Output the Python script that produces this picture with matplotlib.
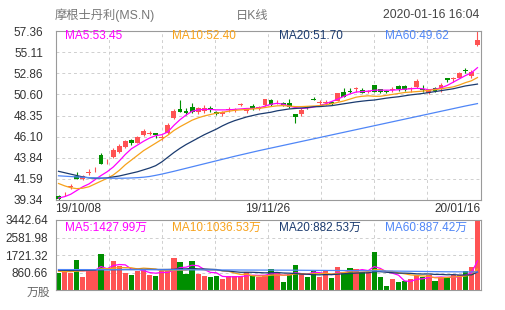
import matplotlib
matplotlib.use('Agg')
import matplotlib.pyplot as plt
from matplotlib.transforms import ScaledTranslation

plt.rcParams['font.family'] = ['Liberation Sans', 'Noto Sans CJK SC', 'DejaVu Sans']

stock_name = '摩根士丹利(MS.N)'
chart_type = '日K线'
timestamp = '2020-01-16 16:04'
date_labels = ['19/10/08', '19/11/26', '20/01/16']
date_label_idx = [0, 35, 69]
price_ticks = [39.34, 41.59, 43.84, 46.10, 48.35, 50.60, 52.86, 55.11, 57.36]
vol_ticks = [860.66, 1721.32, 2581.98, 3442.64]
vol_unit = '万'
vol_axis_unit = '万股'

opens = [39.77, 39.95, 40.72, 41.90, 41.55, 42.22, 42.50, 44.14, 43.36, 43.89,
         44.46, 44.96, 45.74, 45.46, 46.27, 46.40, 46.45, 45.98, 46.52, 48.05,
         49.01, 48.87, 49.22, 48.76, 48.87, 49.19, 48.69, 48.48, 48.97, 48.94,
         49.50, 48.85, 49.40, 49.08, 49.47, 50.00, 49.75, 49.72, 49.65, 48.51,
         48.48, 49.29, 50.10, 49.68, 49.68, 49.83, 49.93, 50.82, 51.00, 51.20,
         51.10, 50.86, 51.61, 51.15, 51.00, 51.10, 51.50, 51.50, 51.15, 51.36,
         51.20, 50.79, 51.25, 51.15, 52.32, 52.20, 52.39, 53.15, 52.57, 55.87]
highs = [39.85, 40.20, 41.00, 42.30, 41.97, 42.60, 42.85, 44.32, 43.70, 44.85,
         45.30, 45.70, 45.85, 46.17, 46.88, 46.66, 46.50, 46.30, 47.59, 49.00,
         50.00, 49.15, 49.72, 49.30, 49.44, 49.40, 48.83, 48.87, 49.22, 49.20,
         49.72, 49.20, 49.55, 49.40, 50.15, 50.10, 49.95, 49.83, 50.10, 48.55,
         49.12, 49.40, 50.30, 49.95, 49.95, 49.90, 50.75, 51.25, 51.25, 51.40,
         51.25, 51.05, 51.65, 51.20, 51.10, 51.35, 51.55, 51.55, 51.40, 52.25,
         51.60, 51.20, 51.35, 51.85, 52.40, 52.50, 52.95, 53.40, 53.20, 57.36]
lows = [39.34, 39.80, 40.50, 41.55, 41.45, 41.97, 42.30, 43.18, 43.15, 43.85,
        44.40, 44.90, 45.20, 45.40, 46.20, 46.27, 46.00, 45.75, 46.38, 47.95,
        48.70, 48.40, 48.66, 48.50, 48.58, 48.76, 48.37, 48.34, 48.76, 48.70,
        49.36, 48.60, 48.90, 48.94, 49.40, 49.40, 49.55, 49.36, 49.12, 47.59,
        48.30, 49.00, 49.95, 49.50, 49.50, 49.50, 49.85, 50.30, 50.80, 50.90,
        50.70, 50.70, 50.85, 50.80, 50.80, 50.90, 51.00, 51.00, 50.90, 51.30,
        50.90, 50.60, 50.85, 50.90, 51.96, 51.96, 52.30, 52.85, 52.32, 55.76]
closes = [39.49, 40.02, 40.80, 41.62, 41.85, 42.30, 42.58, 43.22, 43.44, 44.67,
          45.10, 45.63, 45.39, 46.02, 46.66, 46.50, 46.30, 46.06, 47.34, 48.87,
          48.73, 48.66, 48.76, 49.19, 49.19, 48.98, 48.48, 48.76, 49.05, 49.02,
          49.58, 49.10, 49.12, 49.30, 50.08, 49.47, 49.83, 49.47, 49.30, 48.19,
          48.94, 49.12, 50.00, 49.76, 49.76, 49.60, 50.71, 50.36, 50.90, 51.30,
          50.79, 50.94, 50.90, 50.87, 50.88, 51.20, 51.14, 51.07, 51.22, 52.07,
          51.10, 51.15, 50.93, 51.61, 52.14, 52.30, 52.92, 53.05, 53.03, 56.40]
volumes = [851, 900, 820, 1476, 656, 935, 935, 1771, 935, 1427,
           1197, 851, 738, 935, 1033, 738, 689, 935, 935, 1574,
           1377, 787, 1427, 787, 689, 640, 689, 541, 689, 689,
           689, 886, 689, 640, 738, 1033, 820, 394, 770, 1230,
           820, 640, 935, 640, 984, 590, 1131, 886, 1082, 1033,
           886, 886, 1870, 640, 197, 541, 394, 443, 541, 738,
           640, 738, 443, 640, 640, 738, 738, 935, 1131, 3442.64]

ma5 = [39.55, 39.70, 39.95, 40.35, 40.75, 41.05, 41.50, 41.95, 42.35, 42.85,
       43.50, 44.20, 44.80, 45.20, 45.60, 45.95, 46.20, 46.30, 46.60, 47.30,
       47.90, 48.40, 48.80, 48.95, 49.00, 49.00, 48.95, 48.95, 48.95, 49.00,
       49.05, 49.10, 49.10, 49.15, 49.35, 49.55, 49.65, 49.55, 49.35, 49.20,
       49.10, 49.15, 49.25, 49.40, 49.60, 49.85, 50.10, 50.40, 50.65, 50.85,
       50.90, 50.95, 51.05, 51.05, 51.05, 51.05, 51.10, 51.15, 51.20, 51.25,
       51.20, 51.10, 51.15, 51.30, 51.55, 51.90, 52.25, 52.60, 52.90, 53.45]
ma10 = [41.10, 40.85, 40.65, 40.55, 40.60, 40.75, 41.05, 41.35, 41.65, 42.00,
        42.50, 43.10, 43.60, 44.10, 44.60, 45.00, 45.40, 45.80, 46.25, 46.75,
        47.15, 47.50, 47.85, 48.10, 48.30, 48.45, 48.60, 48.70, 48.80, 48.90,
        48.95, 49.00, 49.05, 49.10, 49.20, 49.30, 49.38, 49.40, 49.35, 49.30,
        49.30, 49.33, 49.36, 49.40, 49.50, 49.60, 49.75, 49.90, 50.10, 50.30,
        50.40, 50.45, 50.40, 50.40, 50.50, 50.60, 50.70, 50.80, 50.85, 50.90,
        50.95, 51.05, 51.10, 51.20, 51.30, 51.40, 51.60, 51.85, 52.05, 52.40]
ma20 = [42.40, 42.25, 42.10, 41.95, 41.80, 41.70, 41.66, 41.66, 41.70, 41.80,
        41.90, 42.05, 42.20, 42.35, 42.55, 42.75, 43.00, 43.40, 43.90, 44.40,
        44.85, 45.25, 45.60, 45.95, 46.30, 46.60, 46.90, 47.25, 47.55, 47.80,
        48.00, 48.20, 48.35, 48.50, 48.60, 48.70, 48.85, 48.95, 49.05, 49.10,
        49.15, 49.20, 49.28, 49.30, 49.35, 49.40, 49.50, 49.60, 49.70, 49.80,
        49.88, 49.95, 50.00, 50.10, 50.20, 50.28, 50.35, 50.45, 50.55, 50.62,
        50.70, 50.80, 50.90, 51.00, 51.10, 51.20, 51.35, 51.50, 51.60, 51.70]
ma60 = [41.92, 41.88, 41.84, 41.80, 41.76, 41.73, 41.70, 41.68, 41.67, 41.66,
        41.66, 41.67, 41.69, 41.72, 41.77, 41.85, 41.97, 42.10, 42.25, 42.40,
        42.56, 42.72, 42.88, 43.04, 43.20, 43.36, 43.52, 43.68, 43.84, 44.00,
        44.15, 44.30, 44.45, 44.60, 44.74, 44.88, 45.02, 45.16, 45.30, 45.44,
        45.58, 45.72, 45.86, 46.00, 46.14, 46.28, 46.42, 46.56, 46.70, 46.84,
        46.98, 47.12, 47.26, 47.40, 47.54, 47.68, 47.82, 47.96, 48.10, 48.24,
        48.38, 48.52, 48.66, 48.80, 48.94, 49.08, 49.22, 49.36, 49.49, 49.62]

vma5 = [1000, 930, 915, 960, 941, 957, 964, 1155, 1046, 1201,
        1253, 1236, 1030, 1030, 951, 859, 827, 866, 866, 974,
        1102, 1122, 1220, 1190, 1013, 866, 846, 669, 650, 650,
        659, 699, 728, 719, 728, 797, 784, 725, 751, 849,
        807, 771, 879, 853, 804, 758, 856, 846, 935, 944,
        1004, 955, 1151, 1063, 896, 827, 728, 443, 423, 531,
        551, 620, 620, 640, 620, 640, 640, 738, 836, 1427.99]
vma10 = [920, 905, 900, 930, 940, 960, 990, 1040, 1050, 1071,
         1105, 1100, 1093, 1038, 1076, 1056, 1032, 948, 948, 963,
         981, 975, 1043, 1028, 994, 984, 984, 945, 920, 832,
         763, 773, 699, 685, 689, 728, 742, 727, 735, 789,
         802, 778, 802, 802, 827, 783, 814, 863, 894, 874,
         881, 906, 999, 999, 920, 916, 842, 797, 743, 714,
         689, 674, 600, 600, 620, 640, 660, 690, 738, 1036.53]
vma20 = [970, 965, 960, 965, 970, 975, 980, 990, 995, 1000,
         1005, 1010, 1010, 1012, 1015, 1015, 1012, 1010, 1012, 1017,
         1043, 1038, 1068, 1033, 1035, 1020, 1008, 947, 934, 898,
         872, 874, 871, 857, 842, 856, 863, 836, 828, 811,
         783, 776, 751, 744, 758, 756, 778, 795, 815, 832,
         842, 842, 901, 901, 874, 850, 828, 830, 819, 794,
         785, 790, 766, 766, 748, 756, 736, 738, 741, 882.53]
vma60 = [1005, 1004, 1004, 1003, 1003, 1002, 1002, 1001, 1000, 1000,
         999, 999, 998, 998, 997, 996, 996, 995, 994, 994,
         993, 992, 991, 990, 989, 988, 987, 986, 985, 984,
         983, 982, 981, 980, 979, 978, 977, 976, 975, 973,
         971, 969, 967, 965, 963, 961, 959, 957, 955, 952,
         949, 946, 943, 940, 936, 932, 928, 924, 920, 916,
         912, 908, 904, 900, 897, 895, 893, 891, 889, 887.42]

RED = '#ff5353'
GREEN = '#008f00'
C5, C10, C20, C60 = '#ff00ff', '#f7a21b', '#1b3b6f', '#4f86f7'
GRID = '#cfcfcf'
BORDER = '#9a9a9a'
TXT = '#333333'

W, H = 505, 310
fig = plt.figure(figsize=(W / 100, H / 100), dpi=100)


def rect(l, t, r, b):
    return [l / W, 1 - b / H, (r - l) / W, (b - t) / H]


ax = fig.add_axes(rect(55.5, 31, 480.5, 200))
axv = fig.add_axes(rect(55.5, 220, 480.5, 290))
n = len(closes)
xs = list(range(n))
vgrid = [-0.5 + k * n / 8 for k in range(1, 8)]

for a in (ax, axv):
    a.set_xlim(-0.5, n - 0.5)
    for s in a.spines.values():
        s.set_color(BORDER)
        s.set_linewidth(0.8)
    for gx in vgrid:
        a.axvline(gx, color=GRID, lw=0.7, ls=(0, (3, 3)), zorder=0)
    a.tick_params(length=0, colors=TXT, labelsize=8.5)

# price panel
ax.set_ylim(price_ticks[0], price_ticks[-1])
ax.set_yticks(price_ticks)
ax.set_yticklabels([f'{t:.2f}' for t in price_ticks])
ax.tick_params(axis='y', pad=9)
for gy in price_ticks[1:-1]:
    ax.axhline(gy, color=GRID, lw=0.7, ls=(0, (3, 3)), zorder=0)

for i in xs:
    up = closes[i] >= opens[i]
    col = RED if up else GREEN
    ax.vlines(i, lows[i], highs[i], color=col, lw=0.8, zorder=2)
    lo = min(opens[i], closes[i])
    hgt = max(abs(closes[i] - opens[i]), 0.08)
    ax.bar(i, hgt, bottom=lo, width=0.8, color=col, linewidth=0, zorder=3)

for vals, c in ((ma5, C5), (ma10, C10), (ma20, C20), (ma60, C60)):
    ax.plot(xs, vals, color=c, lw=0.9, zorder=4)

ax.set_xticks(date_label_idx)
ax.set_xticklabels(date_labels)
ax.tick_params(axis='x', pad=2.5)
for lbl, ha in zip(ax.get_xticklabels(), ['left', 'center', 'right']):
    lbl.set_ha(ha)
    dx = -3 if ha != 'right' else 3
    lbl.set_transform(lbl.get_transform() + ScaledTranslation(dx / 100, 0, fig.dpi_scale_trans))

leg_x = [65, 172, 279, 385]
for xpx, name, vals, c in zip(leg_x, ['MA5', 'MA10', 'MA20', 'MA60'], [ma5, ma10, ma20, ma60], [C5, C10, C20, C60]):
    fig.text(xpx / W, 1 - 36 / H, f'{name}:{vals[-1]:.2f}', color=c, fontsize=8.5, ha='left', va='center')

# volume panel
axv.set_ylim(0, vol_ticks[-1])
axv.set_yticks(vol_ticks)
axv.set_yticklabels([f'{t:.2f}' for t in vol_ticks])
axv.tick_params(axis='y', pad=5.5)
axv.set_xticks([])
for gy in vol_ticks[:-1]:
    axv.axhline(gy, color=GRID, lw=0.7, ls=(0, (3, 3)), zorder=0)
vcols = [RED if closes[i] >= opens[i] else GREEN for i in xs]
axv.bar(xs, volumes, width=0.86, color=vcols, linewidth=0, zorder=2)
for vals, c in ((vma5, C5), (vma10, C10), (vma20, C20), (vma60, C60)):
    axv.plot(xs, vals, color=c, lw=0.9, zorder=4)
for xpx, name, vals, c in zip(leg_x, ['MA5', 'MA10', 'MA20', 'MA60'], [vma5, vma10, vma20, vma60], [C5, C10, C20, C60]):
    fig.text(xpx / W, 1 - 228 / H, f'{name}:{vals[-1]:.2f}{vol_unit}', color=c, fontsize=8.5, ha='left', va='center')
fig.text(50 / W, 1 - 293 / H, vol_axis_unit, color='#666666', fontsize=8.5, ha='right', va='center')

# header
fig.text(55 / W, 1 - 15.5 / H, stock_name, color='#777777', fontsize=8.8, ha='left', va='center')
fig.text(252.5 / W, 1 - 15.5 / H, chart_type, color='#777777', fontsize=8.8, ha='center', va='center')
fig.text(479 / W, 1 - 15.5 / H, timestamp, color='#444444', fontsize=8.8, ha='right', va='center')

fig.savefig('out.png', dpi=100, facecolor='white')
